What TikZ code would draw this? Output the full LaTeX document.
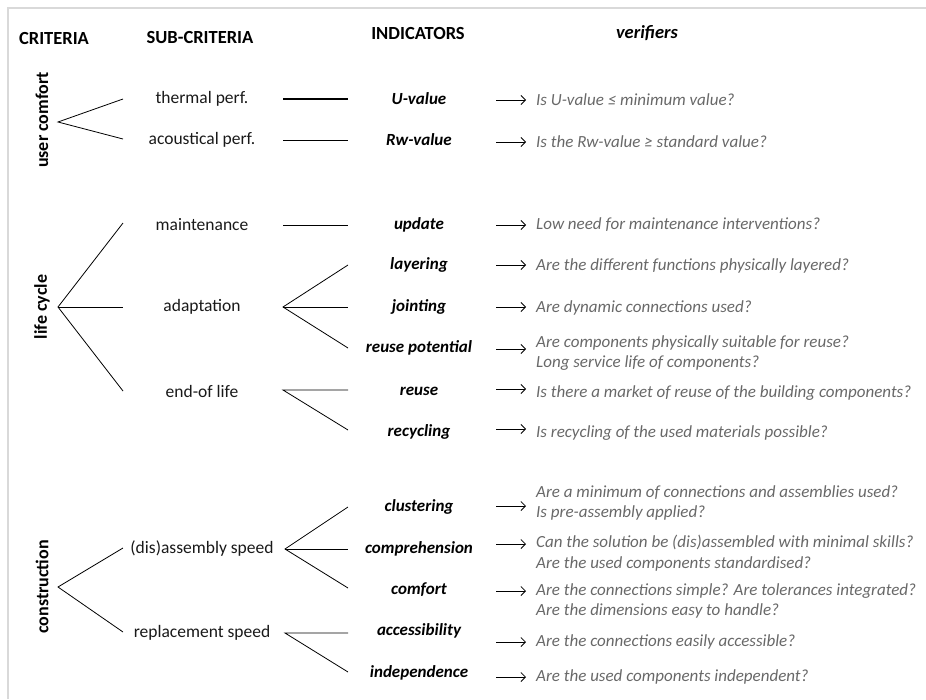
\documentclass[tikz,border=0pt]{standalone}
\usepackage{fontspec}
\setmainfont{Carlito}
\usetikzlibrary{arrows.meta}
\definecolor{framegray}{HTML}{D9D9D9}
\definecolor{vergray}{HTML}{686868}
\begin{document}
\begin{tikzpicture}[x=1pt,y=-1pt,
  every node/.style={inner sep=0pt,font=\fontsize{17}{20}\selectfont},
  header/.style={font=\fontsize{18.5}{20}\selectfont\bfseries},
  crit/.style={font=\fontsize{18}{20}\selectfont\bfseries,rotate=90},
  sub/.style={text=black!90,font=\fontsize{17.5}{20}\selectfont},
  ind/.style={font=\fontsize{17}{20}\selectfont\bfseries\itshape},
  ver/.style={anchor=west,align=left,text=vergray,font=\fontsize{17}{20.5}\selectfont\itshape},
  branch/.style={draw=black,line width=0.8pt},
  arr/.style={draw=black,line width=0.8pt,-{Straight Barb[length=4.5pt,width=9pt,line width=0.8pt]},shorten >=10pt}]
\useasboundingbox (0,0) rectangle (926,699);
% frame lines
\draw[framegray,line width=2pt] (7.5,699) -- (7.5,7.5) -- (926,7.5);

% column headers
\node[header] (hC) at (54,38) {CRITERIA};
\node[header] (hS) at (200,38) {SUB-CRITERIA};
\node[header] (hI) at (418,33) {INDICATORS};
\node[header,font=\fontsize{18.5}{20}\selectfont\bfseries\itshape] (hV) at (647,33) {verifiers};

% criteria
\node[crit] (uc) at (42,120) {user comfort};
\node[crit] (lc) at (42,307) {life cycle};
\node[crit] (co) at (42,587) {construction};

% sub-criteria
\node[sub] (thermal) at (202,99) {thermal perf.};
\node[sub] (acoust) at (202,140) {acoustical perf.};
\node[sub] (maint) at (202,225) {maintenance};
\node[sub] (adapt) at (202,307) {adaptation};
\node[sub] (eol) at (202,391) {end-of life};
\node[sub] (disas) at (202,549) {(dis)assembly speed};
\node[sub] (repl) at (202,633) {replacement speed};

% indicators
\node[ind] (uval) at (419,99) {U-value};
\node[ind] (rwval) at (419,140) {Rw-value};
\node[ind] (upd) at (419,225) {update};
\node[ind] (lay) at (419,265) {layering};
\node[ind] (joint) at (419,307) {jointing};
\node[ind] (rpot) at (419,348) {reuse potential};
\node[ind] (reuse) at (419,391) {reuse};
\node[ind] (recyc) at (419,432) {recycling};
\node[ind] (clus) at (419,507) {clustering};
\node[ind] (compr) at (419,549) {comprehension};
\node[ind] (comf) at (419,590) {comfort};
\node[ind] (acc) at (419,631) {accessibility};
\node[ind] (indep) at (419,673) {independence};

% verifiers
\node[ver] (v1) at (536,100) {Is U-value ≤ minimum value?};
\node[ver] (v2) at (536,142) {Is the Rw-value ≥ standard value?};
\node[ver] (v3) at (536,225) {Low need for maintenance interventions?};
\node[ver] (v4) at (536,266) {Are the different functions physically layered?};
\node[ver] (v5) at (536,308) {Are dynamic connections used?};
\node[ver] (v6) at (536,353) {Are components physically suitable for reuse?\\Long service life of components?};
\node[ver] (v7) at (536,393) {Is there a market of reuse of the building components?};
\node[ver] (v8) at (536,433) {Is recycling of the used materials possible?};
\node[ver] (v9) at (536,503) {Are a minimum of connections and assemblies used?\\Is pre-assembly applied?};
\node[ver] (v10) at (536,553) {Can the solution be (dis)assembled with minimal skills?\\Are the used components standardised?};
\node[ver] (v11) at (536,601) {Are the connections simple? Are tolerances integrated?\\Are the dimensions easy to handle?};
\node[ver] (v12) at (536,642) {Are the connections easily accessible?};
\node[ver] (v13) at (536,677) {Are the used components independent?};

% tree joints (apex points) and branch ends
\coordinate (ucA) at (58,122);
\coordinate (ucE1) at (123,99);
\coordinate (ucE2) at (123,139);
\coordinate (lcA) at (58,307);
\coordinate (lcE1) at (123,223);
\coordinate (lcE2) at (123,307);
\coordinate (lcE3) at (123,391);
\coordinate (coA) at (58,587);
\coordinate (coE1) at (123,548);
\coordinate (coE2) at (123,632);

\coordinate (thS) at (283,99);  \coordinate (thE) at (348,99);
\coordinate (acS) at (283,140); \coordinate (acE) at (348,140);
\coordinate (mtS) at (283,225); \coordinate (mtE) at (348,225);
\coordinate (adA) at (283,307);
\coordinate (adE1) at (348,265);
\coordinate (adE2) at (348,307);
\coordinate (adE3) at (348,348);
\coordinate (eoA) at (283,390);
\coordinate (eoE1) at (348,390);
\coordinate (eoE2) at (348,430);
\coordinate (dsA) at (285,549);
\coordinate (dsE1) at (348,507);
\coordinate (dsE2) at (348,549);
\coordinate (dsE3) at (348,588);
\coordinate (rpA) at (285,633);
\coordinate (rpE1) at (348,633);
\coordinate (rpE2) at (348,672);

% criteria -> sub-criteria
\draw[branch] (ucE1) -- (ucA) -- (ucE2);
\draw[branch] (lcE1) -- (lcA) -- (lcE3);
\draw[branch] (lcA) -- (lcE2);
\draw[branch] (coE1) -- (coA) -- (coE2);

% sub-criteria -> indicators
\draw[branch,line width=1.5pt] (thS) -- (thE);
\draw[branch] (acS) -- (acE);
\draw[branch] (mtS) -- (mtE);
\draw[branch] (adE1) -- (adA) -- (adE3);
\draw[branch] (adA) -- (adE2);
\draw[branch] (eoE1) -- (eoA) -- (eoE2);
\draw[branch] (dsE1) -- (dsA) -- (dsE3);
\draw[branch] (dsA) -- (dsE2);
\draw[branch] (rpE1) -- (rpA) -- (rpE2);

% indicators -> verifiers
\coordinate (a1) at (496,100);
\coordinate (a2) at (496,142);
\coordinate (a3) at (496,225);
\coordinate (a4) at (496,265);
\coordinate (a5) at (496,307);
\coordinate (a6) at (496,349);
\coordinate (a7) at (496,389);
\coordinate (a8) at (496,429);
\coordinate (a9) at (496,506);
\coordinate (a10) at (496,544);
\coordinate (a11) at (496,591);
\coordinate (a12) at (496,642);
\coordinate (a13) at (496,677);
\foreach \i in {1,...,13} {
  \draw[arr] (a\i) -- (a\i -| v\i.west);
}
\end{tikzpicture}
\end{document}
